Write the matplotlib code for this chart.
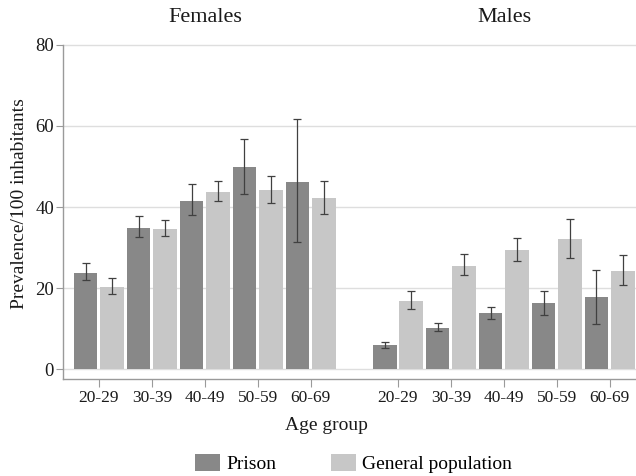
import numpy as np
import matplotlib
matplotlib.use("Agg")
import matplotlib.pyplot as plt
from matplotlib.patches import Patch

plt.rcParams['font.family'] = ['Liberation Serif', 'DejaVu Serif']

age_groups = ["20-29", "30-39", "40-49", "50-59", "60-69"]
panels = ["Females", "Males"]

# Females
f_prison = [23.8, 34.9, 41.6, 49.9, 46.2]
f_prison_lo = [22.0, 32.5, 38.1, 43.2, 31.4]
f_prison_hi = [26.3, 37.7, 45.7, 56.7, 61.7]
f_gen = [20.3, 34.5, 43.8, 44.2, 42.3]
f_gen_lo = [18.6, 32.8, 41.4, 40.9, 38.3]
f_gen_hi = [22.4, 36.9, 46.3, 47.7, 46.5]

# Males
m_prison = [5.9, 10.3, 13.8, 16.3, 17.7]
m_prison_lo = [5.2, 9.4, 12.5, 13.5, 11.2]
m_prison_hi = [6.8, 11.3, 15.4, 19.2, 24.5]
m_gen = [16.8, 25.5, 29.4, 32.0, 24.3]
m_gen_lo = [14.9, 23.2, 26.8, 27.4, 20.9]
m_gen_hi = [19.3, 28.3, 32.4, 37.0, 28.2]

series_names = ["Prison", "General population"]
c_prison = "#888888"
c_gen = "#c7c7c7"
err_col = "#404040"

fig = plt.figure(figsize=(6.36, 4.76), dpi=100)
H = 476.0
W = 636.0
ax_left, ax_right = 63 / W, 636 / W
ax_bot, ax_top = 1 - 379 / H, 1 - 44.7 / H
ax = fig.add_axes([ax_left, ax_bot, ax_right - ax_left, ax_top - ax_bot])

male_offset = 5.652
bw = 0.445
off = 0.25


def draw_panel(x0, prison, plo, phi, gen, glo, ghi):
    x = x0 + np.arange(len(age_groups))
    prison = np.array(prison)
    gen = np.array(gen)
    ax.bar(x - off, prison, width=bw, color=c_prison, zorder=2)
    ax.bar(x + off, gen, width=bw, color=c_gen, zorder=2)
    ax.errorbar(x - off, prison, yerr=[prison - np.array(plo), np.array(phi) - prison],
                fmt='none', ecolor=err_col, elinewidth=0.9, capsize=2.6, capthick=0.9, zorder=3)
    ax.errorbar(x + off, gen, yerr=[gen - np.array(glo), np.array(ghi) - gen],
                fmt='none', ecolor=err_col, elinewidth=0.9, capsize=2.6, capthick=0.9, zorder=3)
    return x


xf = draw_panel(0, f_prison, f_prison_lo, f_prison_hi, f_gen, f_gen_lo, f_gen_hi)
xm = draw_panel(male_offset, m_prison, m_prison_lo, m_prison_hi, m_gen, m_gen_lo, m_gen_hi)

ax.set_xlim(-0.679, 10.15)
ax.set_ylim(-2.39, 80)
ax.set_yticks([0, 20, 40, 60, 80])
ax.set_xticks(np.concatenate([xf, xm]))
ax.set_xticklabels(age_groups + age_groups)

for yv in [0, 20, 40, 60, 80]:
    ax.axhline(yv, color="#dedede", lw=1.0, zorder=1, clip_on=False)

for s in ["top", "right"]:
    ax.spines[s].set_visible(False)
for s in ["left", "bottom"]:
    ax.spines[s].set_color("#9a9a9a")
    ax.spines[s].set_linewidth(1.0)

ax.tick_params(axis='y', length=5, width=0.8, color="#9a9a9a", labelsize=13.5,
               labelcolor="#1a1a1a", pad=1.5)
ax.tick_params(axis='x', length=5.5, width=0.8, color="#9a9a9a", labelsize=12.5,
               labelcolor="#1a1a1a", pad=2.5)

fig.text(20 / W, 1 - 203.5 / H, "Prevalence/100 inhabitants", rotation=90,
         ha="center", va="center", fontsize=14, color="#1a1a1a")
fig.text(326.5 / W, 1 - 425 / H, "Age group", ha="center", va="center",
         fontsize=14, color="#1a1a1a")
fig.text(205 / W, 1 - 18 / H, panels[0], ha="center", va="center", fontsize=16, color="#1a1a1a")
fig.text(504 / W, 1 - 18 / H, panels[1], ha="center", va="center", fontsize=16, color="#1a1a1a")

handles = [Patch(facecolor=c_prison, edgecolor="none"), Patch(facecolor=c_gen, edgecolor="none")]
fig.legend(handles, series_names, loc="center", bbox_to_anchor=(353.5 / W, 1 - 463.5 / H),
           ncol=2, frameon=False, fontsize=14, handlelength=1.29, handleheight=0.98,
           handletextpad=0.31, columnspacing=2.83, borderpad=0, borderaxespad=0)

fig.savefig("out.png", dpi=100)
